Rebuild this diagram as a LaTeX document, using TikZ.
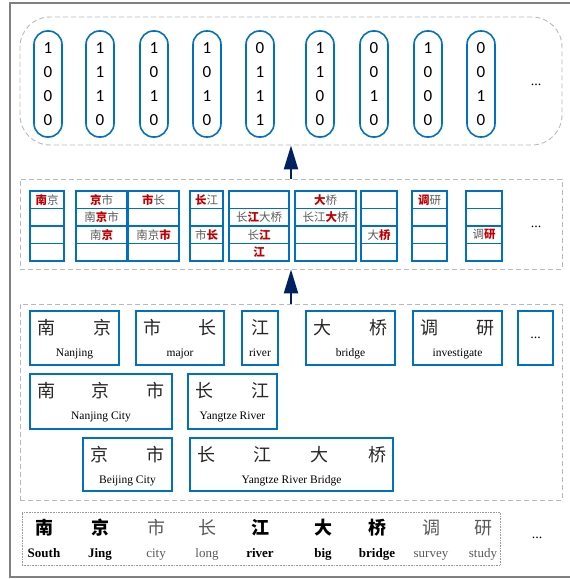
\documentclass[tikz,border=0pt]{standalone}
\usepackage{fontspec}
\setmainfont{Liberation Serif}
\newfontfamily\cjk{Noto Sans CJK SC}
\newfontfamily\digitfont{Carlito}
\usepackage{tikz}
\usetikzlibrary{arrows.meta}
\usetikzlibrary{positioning}
\definecolor{FrameBlue}{RGB}{0,112,192}
\definecolor{MarkRed}{RGB}{192,0,0}
\definecolor{ArrowNavy}{RGB}{0,32,96}
\definecolor{TextGray}{RGB}{89,89,89}
\colorlet{DashGray}{gray!55}

% red bold character inside a context cell
\newcommand{\redch}[1]{\textcolor{MarkRed}{\bfseries #1}}

% one column of the context table: name, x, width, four rows
\newcommand{\ctxcol}[7]{%
\node[ctxcell, minimum width=#3] (#1-1) at (#2,\rowA) {#4};
\node[ctxcell, minimum width=#3, below=0pt of #1-1] (#1-2) {#5};
\node[ctxcell, minimum width=#3, below=0pt of #1-2] (#1-3) {#6};
\node[ctxcell, minimum width=#3, below=0pt of #1-3] (#1-4) {#7};
}

% word box: name, left, right, top, bottom, characters, english
\newcommand{\wordbox}[7]{%
\node[wordframe, minimum width=#3-#2, minimum height=#5-#4] (#1) at ({(#2+#3)/2},{(#4+#5)/2}) {};
\node[wordcn] (#1-cn) at ({(#2+#3)/2},{#4+23}) {\hbox to \dimexpr#3pt-#2pt-14pt\relax{#6}};
\node[worden] (#1-en) at ({(#2+#3)/2},{#4+45}) {#7};
}

% bottom token: name, x, character, english, style
\newcommand{\bottomtok}[5]{%
\node[font=\cjk\fontsize{18}{18}\selectfont, #5] (#1-cn) at (#2,534) {#3};
\node[font=\fontsize{13}{14}\selectfont, #5] (#1-en) at (#2,557) {#4};
}

\begin{document}
\begin{tikzpicture}[x=1pt, y=-1pt,
  layerbox/.style={draw=DashGray, line width=0.9pt, dash pattern=on 5pt off 3pt, inner sep=0pt},
  onehot/.style={draw=FrameBlue, line width=1.6pt, rounded corners=13.5pt,
    minimum width=28, minimum height=106, inner sep=0pt, align=center,
    font=\digitfont\fontsize{17}{24}\selectfont},
  ctxcell/.style={draw=FrameBlue, line width=1.1pt, minimum height=17.5, inner sep=0pt,
    outer sep=0pt, text=TextGray, font=\cjk\fontsize{11.5}{12}\selectfont},
  wordframe/.style={draw=FrameBlue, line width=1.6pt, inner sep=0pt},
  wordcn/.style={anchor=base, inner sep=0pt, text=black!85, font=\cjk\fontsize{18}{18}\selectfont},
  worden/.style={anchor=base, inner sep=0pt, font=\fontsize{11.5}{12}\selectfont},
  strongtok/.style={anchor=base, inner sep=0pt, execute at begin node=\bfseries},
  weaktok/.style={anchor=base, inner sep=0pt, text=TextGray},
  dotsnode/.style={inner sep=0pt, font=\fontsize{14}{14}\selectfont},
  uparrow/.style={draw=ArrowNavy, line width=2.2pt, -{Triangle[length=24pt,width=14pt]}}]

\useasboundingbox (0,0) rectangle (570,579);

% outer frame
\draw[gray, line width=1.2pt] (570,3) -- (10,3) -- (10,577) -- (570,577);

% layer frames
\node[layerbox, rounded corners=30pt, minimum width=542, minimum height=128] (onehotlayer) at (291,81) {};
\node[layerbox, minimum width=542, minimum height=90] (ctxlayer) at (291,224) {};
\node[layerbox, minimum width=542, minimum height=196] (wordlayer) at (291,402) {};
\node[draw=gray!80, densely dotted, line width=0.6pt, inner sep=0pt,
  minimum width=478, minimum height=53] (charlayer) at (261,538.5) {};

% one-hot vectors
\node[onehot] (v1) at (48,84) {1\\0\\0\\0};
\node[onehot] (v2) at (100,84) {1\\1\\1\\0};
\node[onehot] (v3) at (154,84) {1\\0\\1\\0};
\node[onehot] (v4) at (207,84) {1\\0\\1\\0};
\node[onehot] (v5) at (260,84) {0\\1\\1\\1};
\node[onehot] (v6) at (320,84) {1\\1\\0\\0};
\node[onehot] (v7) at (374,84) {0\\0\\1\\0};
\node[onehot] (v8) at (428,84) {1\\0\\0\\0};
\node[onehot] (v9) at (481,84) {0\\0\\1\\0};
\node[dotsnode] (onehotdots) at (536,85) {...};

% context table
\def \rowA {199.75}
\ctxcol{c1}{47}{34}{\redch{南}京}{}{}{}
\ctxcol{c2}{101.5}{51}{\redch{京}市}{南\redch{京}市}{南\redch{京}}{}
\ctxcol{c3}{153.5}{51}{\redch{市}长}{}{南京\redch{市}}{}
\ctxcol{c4}{206.5}{33}{\redch{长}江}{}{市\redch{长}}{}
\ctxcol{c5}{259}{60}{}{长\redch{江}大桥}{长\redch{江}}{\redch{江}}
\ctxcol{c6}{325.5}{61}{\redch{大}桥}{长江\redch{大}桥}{}{}
\ctxcol{c7}{379}{36}{}{}{大\redch{桥}}{}
\ctxcol{c8}{429.5}{35}{\redch{调}研}{}{}{}
\ctxcol{c9}{484}{36}{}{}{调\redch{研}}{}
\node[dotsnode] (ctxdots) at (536,227) {...};

% word boxes
\wordbox{nanjing}{30}{119}{311}{365}{南\hfill 京}{Nanjing}
\wordbox{shizhang}{136}{224}{311}{365}{市\hfill 长}{major}
\wordbox{jiang}{242}{278}{311}{365}{\hfil 江\hfil}{river}
\wordbox{daqiao}{306}{395}{311}{365}{大\hfill 桥}{bridge}
\wordbox{diaoyan}{413}{502}{311}{365}{调\hfill 研}{investigate}
\node[wordframe, minimum width=35, minimum height=54, font=\fontsize{14}{14}\selectfont] (worddots) at (535.5,338) {...};
\wordbox{nanjingshi}{30}{172}{374}{429}{南\hfill 京\hfill 市}{Nanjing City}
\wordbox{changjiang}{188}{277}{374}{429}{长\hfill 江}{Yangtze River}
\wordbox{jingshi}{83}{172}{438}{491}{京\hfill 市}{Beijing City}
\wordbox{changjiangdaqiao}{190}{393}{438}{491}{长\hfill 江\hfill 大\hfill 桥}{Yangtze River Bridge}

% characters of the sentence
\bottomtok{t1}{44}{南}{South}{strongtok}
\bottomtok{t2}{100}{京}{Jing}{strongtok}
\bottomtok{t3}{156}{市}{city}{weaktok}
\bottomtok{t4}{207}{长}{long}{weaktok}
\bottomtok{t5}{260}{江}{river}{strongtok}
\bottomtok{t6}{323}{大}{big}{strongtok}
\bottomtok{t7}{377}{桥}{bridge}{strongtok}
\bottomtok{t8}{431}{调}{survey}{weaktok}
\bottomtok{t9}{483}{研}{study}{weaktok}
\node[dotsnode] (chardots) at (537,538) {...};

% arrows between layers
\draw[uparrow] (wordlayer.north) -- (ctxlayer.south);
\draw[uparrow] (ctxlayer.north) -- (onehotlayer.south);

\end{tikzpicture}
\end{document}
